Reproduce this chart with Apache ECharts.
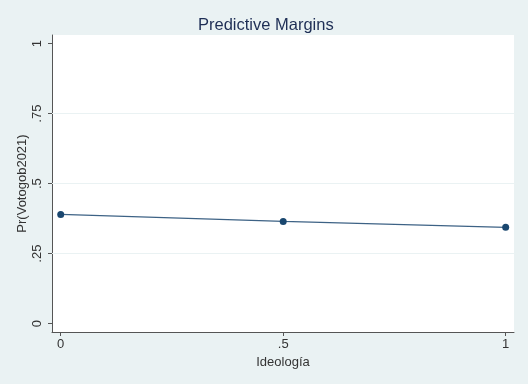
<!DOCTYPE html>
<html>
<head>
<meta charset="utf-8">
<script src="https://cdn.jsdelivr.net/npm/echarts@6/dist/echarts.min.js"></script>
<style>html,body{margin:0;padding:0;background:#eaf2f3;}#c{width:528px;height:384px;}</style>
</head>
<body>
<div id="c"></div>
<script>
var xValues = [0, 0.5, 1];
var yValues = [0.390, 0.365, 0.344];
var yTicks = [0, 0.25, 0.5, 0.75, 1];
var xTicks = [0, 0.5, 1];
var gridLines = [0.25, 0.5, 0.75];

function fmt(v) {
  if (Math.abs(v) < 1e-9) return '0';
  if (Math.abs(v - 1) < 1e-9) return '1';
  return String(+v.toFixed(2)).replace(/^0\./, '.');
}

var chart = echarts.init(document.getElementById('c'));
chart.setOption({
  backgroundColor: '#eaf2f3',
  animation: false,
  title: {
    text: 'Predictive Margins',
    left: 193,
    top: 12,
    textStyle: { fontFamily: 'Liberation Sans', fontSize: 16.5, fontWeight: 'normal', color: '#1e2e55' }
  },
  grid: {
    left: 52, right: 14, top: 35, bottom: 52,
    show: true, backgroundColor: '#ffffff', borderWidth: 0
  },
  xAxis: {
    type: 'value',
    min: -0.0196, max: 1.0187,
    name: 'Ideología', nameLocation: 'middle', nameGap: 24,
    nameTextStyle: { fontFamily: 'Liberation Sans', fontSize: 13, color: '#333' },
    axisLine: { show: true, onZero: false, lineStyle: { color: '#555', width: 1 } },
    axisTick: { show: true, customValues: xTicks, length: 4, lineStyle: { color: '#555' } },
    axisLabel: { customValues: xTicks, formatter: fmt, margin: 6, fontFamily: 'Liberation Sans', fontSize: 13, color: '#333' },
    splitLine: { show: false }
  },
  yAxis: {
    type: 'value',
    min: -0.03, max: 1.031,
    name: 'Pr(Votogob2021)', nameLocation: 'middle', nameGap: 23, nameRotate: 90,
    nameMoveOverlap: false,
    nameTextStyle: { fontFamily: 'Liberation Sans', fontSize: 13, color: '#333' },
    axisLine: { show: true, onZero: false, lineStyle: { color: '#555', width: 1 } },
    axisTick: { show: true, customValues: yTicks, length: 4, lineStyle: { color: '#555' } },
    axisLabel: { customValues: yTicks, formatter: fmt, rotate: 90, margin: 8, fontFamily: 'Liberation Sans', fontSize: 13, color: '#333' },
    splitLine: { show: false }
  },
  series: [{
    type: 'line',
    data: xValues.map(function (x, i) { return [x, yValues[i]]; }),
    symbol: 'circle',
    symbolSize: 7,
    itemStyle: { color: '#1a476f' },
    lineStyle: { color: '#3d6285', width: 1.2 },
    markLine: {
      silent: true,
      symbol: 'none',
      label: { show: false },
      lineStyle: { color: '#eaf2f3', type: 'solid', width: 1 },
      data: gridLines.map(function (v) { return { yAxis: v }; })
    },
    z: 3
  }]
});
</script>
</body>
</html>
